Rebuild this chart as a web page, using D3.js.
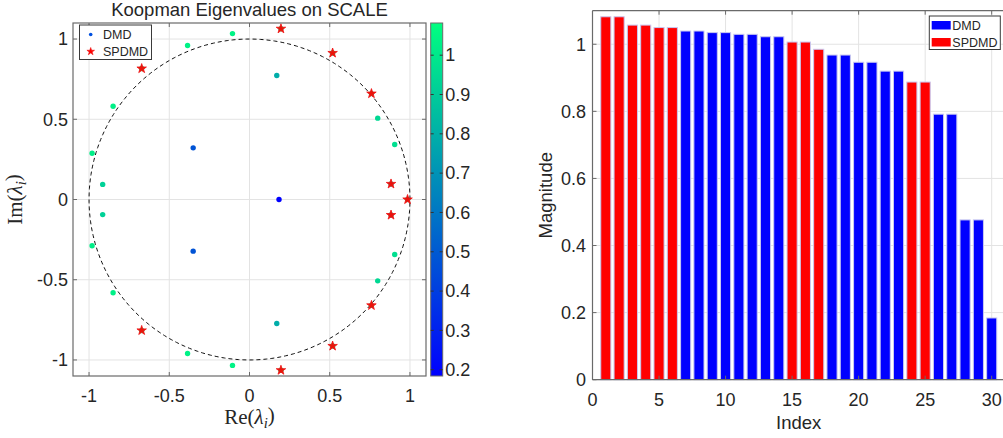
<!DOCTYPE html>
<html>
<head>
<meta charset="utf-8">
<script src="https://cdn.jsdelivr.net/npm/d3@7"></script>
<style>
  html, body { margin: 0; padding: 0; background: #fff; }
  svg { display: block; }
  text { font-family: "Liberation Sans", Arial, Helvetica, sans-serif; fill: #262626; }
  .tex { font-family: "Liberation Serif", "Times New Roman", serif; }
</style>
</head>
<body>
<svg id="fig" width="1003" height="438"></svg>
<script>
// Koopman eigenvalues (real and imaginary parts) and SPDMD selection flags
const eigRe = [0.196, 0.196, -0.672, -0.672, 0.518, 0.518, -0.106, -0.106, -0.386, -0.386,
               -0.850, -0.850, -0.981, -0.981, 0.760, 0.760, 0.985, 0.905, 0.905, 0.799,
               0.799, -0.915, -0.915, 0.882, 0.882, 0.170, 0.170, -0.351, -0.351, 0.184];
const eigIm = [1.064, -1.064, 0.816, -0.816, 0.913, -0.913, 1.034, -1.034, 0.960, -0.960,
               0.581, -0.581, 0.288, -0.288, 0.660, -0.660, 0.000, 0.343, -0.343, 0.507,
               -0.507, 0.094, -0.094, 0.097, -0.097, 0.773, -0.773, 0.322, -0.322, 0.000];
const spdmd = [1, 1, 1, 1, 1, 1, 0, 0, 0, 0,
               0, 0, 0, 0, 1, 1, 1, 0, 0, 0,
               0, 0, 0, 1, 1, 0, 0, 0, 0, 0];

// Tick values and labels
const planeTicks = [-1, -0.5, 0, 0.5, 1];
const planeTickLabels = ["-1", "-0.5", "0", "0.5", "1"];
const cbarTicks = [0.2, 0.3, 0.4, 0.5, 0.6, 0.7, 0.8, 0.9, 1];
const cbarTickLabels = ["0.2", "0.3", "0.4", "0.5", "0.6", "0.7", "0.8", "0.9", "1"];
const indexTicks = [0, 5, 10, 15, 20, 25, 30];
const indexTickLabels = ["0", "5", "10", "15", "20", "25", "30"];
const magTicks = [0, 0.2, 0.4, 0.6, 0.8, 1];
const magTickLabels = ["0", "0.2", "0.4", "0.6", "0.8", "1"];

const COL_DMD = "#0000ff", COL_SP = "#ff0000";
const GRID = "#e3e3e3", AXC = "#6a6a6a";

const modes = eigRe.map((re, i) => ({ re, im: eigIm[i], sp: !!spdmd[i], mag: Math.hypot(re, eigIm[i]) }));
const svg = d3.select("#fig");

// MATLAB "winter" colormap: blue -> spring green
const winter = t => d3.rgb(0, Math.round(255 * t), Math.round(255 * (1 - 0.5 * t))).toString();
const [cmin, cmax] = d3.extent(modes, d => d.mag);

/* ---------------- left: complex plane ---------------- */
const L = { x0: 73, x1: 426, y0: 23, y1: 376 };
const xs = d3.scaleLinear([-1.1, 1.1], [L.x0, L.x1]);
const ys = d3.scaleLinear([-1.1, 1.1], [L.y1, L.y0]);
const gL = svg.append("g");

gL.append("rect").attr("x", L.x0).attr("y", L.y0).attr("width", L.x1 - L.x0).attr("height", L.y1 - L.y0).attr("fill", "#fff");
// grid
gL.selectAll(".gx").data(planeTicks).join("line")
  .attr("x1", d => xs(d)).attr("x2", d => xs(d)).attr("y1", L.y0).attr("y2", L.y1)
  .attr("stroke", GRID).attr("stroke-width", 1);
gL.selectAll(".gy").data(planeTicks).join("line").attr("class", "gy")
  .attr("y1", d => ys(d)).attr("y2", d => ys(d)).attr("x1", L.x0).attr("x2", L.x1)
  .attr("stroke", GRID).attr("stroke-width", 1);

// unit circle
const th = d3.range(0, 361, 1).map(a => a * Math.PI / 180);
gL.append("path")
  .attr("d", d3.line().x(a => xs(Math.cos(a))).y(a => ys(Math.sin(a)))(th))
  .attr("fill", "none").attr("stroke", "#111").attr("stroke-width", 1).attr("stroke-dasharray", "4,3");

// DMD eigenvalues coloured by magnitude
const cnorm = d3.scaleLinear([cmin, cmax], [0, 1]);
gL.selectAll(".dmd").data(modes).join("circle")
  .attr("cx", d => xs(d.re)).attr("cy", d => ys(d.im)).attr("r", 2.7)
  .attr("fill", d => winter(cnorm(d.mag)));

// SPDMD-selected eigenvalues
const star = d3.symbol().type(d3.symbolStar).size(28);
gL.selectAll(".sp").data(modes.filter(d => d.sp)).join("path")
  .attr("transform", d => `translate(${xs(d.re)},${ys(d.im)})`)
  .attr("d", star).attr("fill", COL_SP).attr("fill-opacity", 0.92)
  .attr("stroke", "#ee1010").attr("stroke-width", 0.8);

// frame + ticks (all four sides)
gL.append("rect").attr("x", L.x0).attr("y", L.y0).attr("width", L.x1 - L.x0).attr("height", L.y1 - L.y0)
  .attr("fill", "none").attr("stroke", AXC).attr("stroke-width", 1.2);
planeTicks.forEach(t => {
  gL.append("line").attr("x1", xs(t)).attr("x2", xs(t)).attr("y1", L.y1).attr("y2", L.y1 - 4).attr("stroke", AXC);
  gL.append("line").attr("x1", xs(t)).attr("x2", xs(t)).attr("y1", L.y0).attr("y2", L.y0 + 4).attr("stroke", AXC);
  gL.append("line").attr("y1", ys(t)).attr("y2", ys(t)).attr("x1", L.x0).attr("x2", L.x0 + 4).attr("stroke", AXC);
  gL.append("line").attr("y1", ys(t)).attr("y2", ys(t)).attr("x1", L.x1).attr("x2", L.x1 - 4).attr("stroke", AXC);
});
gL.selectAll(".xl").data(planeTicks).join("text")
  .attr("x", d => xs(d)).attr("y", 402).attr("text-anchor", "middle").attr("font-size", 18)
  .text((d, i) => planeTickLabels[i]);
gL.selectAll(".yl").data(planeTicks).join("text")
  .attr("x", L.x0 - 5).attr("y", d => ys(d)).attr("dy", "0.35em").attr("text-anchor", "end").attr("font-size", 18)
  .text((d, i) => planeTickLabels[i]);

// title
gL.append("text").attr("x", (L.x0 + L.x1) / 2).attr("y", 16).attr("text-anchor", "middle")
  .attr("font-size", 18.5).text("Koopman Eigenvalues on SCALE");

// axis labels (TeX style)
function texLabel(g, pre) {
  g.append("tspan").text(pre + "(");
  g.append("tspan").attr("font-style", "italic").text("λ");
  g.append("tspan").attr("font-style", "italic").attr("font-size", "70%").attr("dy", "0.25em").text("i");
  g.append("tspan").attr("dy", "-0.25em").text(")");
}
const xlab = gL.append("text").attr("class", "tex").attr("x", (L.x0 + L.x1) / 2).attr("y", 424)
  .attr("text-anchor", "middle").attr("font-size", 21);
texLabel(xlab, "Re");
const ylab = gL.append("text").attr("class", "tex")
  .attr("transform", `translate(22,${(L.y0 + L.y1) / 2}) rotate(-90)`)
  .attr("text-anchor", "middle").attr("font-size", 21);
texLabel(ylab, "Im");

// legend
const lg = gL.append("g");
lg.append("rect").attr("x", 79.5).attr("y", 25).attr("width", 72).attr("height", 34.5)
  .attr("fill", "#fff").attr("stroke", "#3a3a3a").attr("stroke-width", 1);
lg.append("circle").attr("cx", 90.7).attr("cy", 34.5).attr("r", 1.8).attr("fill", "#0050e0");
lg.append("path").attr("transform", "translate(90.7,51.5)").attr("d", d3.symbol().type(d3.symbolStar).size(18))
  .attr("fill", COL_SP).attr("stroke", "#ee1010").attr("stroke-width", 0.6);
lg.append("text").attr("x", 103).attr("y", 39).attr("font-size", 12.5).text("DMD");
lg.append("text").attr("x", 103).attr("y", 56).attr("font-size", 12.5).text("SPDMD");

// colorbar
const C = { x0: 430.7, x1: 442.7 };
const cs = d3.scaleLinear([cmin, cmax], [L.y1, L.y0]);
const defs = svg.append("defs");
const grad = defs.append("linearGradient").attr("id", "winterGrad")
  .attr("x1", 0).attr("y1", 1).attr("x2", 0).attr("y2", 0);
d3.range(0, 1.0001, 0.05).forEach(t => grad.append("stop").attr("offset", t).attr("stop-color", winter(t)));
gL.append("rect").attr("x", C.x0).attr("y", L.y0).attr("width", C.x1 - C.x0).attr("height", L.y1 - L.y0)
  .attr("fill", "url(#winterGrad)").attr("stroke", AXC).attr("stroke-width", 1);
cbarTicks.forEach(t => {
  gL.append("line").attr("x1", C.x1).attr("x2", C.x1 - 3).attr("y1", cs(t)).attr("y2", cs(t)).attr("stroke", "#333");
  gL.append("line").attr("x1", C.x0).attr("x2", C.x0 + 3).attr("y1", cs(t)).attr("y2", cs(t)).attr("stroke", "#333");
});
gL.selectAll(".cl").data(cbarTicks).join("text")
  .attr("x", C.x1 + 2.5).attr("y", d => cs(d)).attr("dy", "0.35em").attr("font-size", 18)
  .text((d, i) => cbarTickLabels[i]);

/* ---------------- right: magnitude bar chart ---------------- */
const R = { x0: 592.5, x1: 1005, y0: 10.7, y1: 379.7 };
const sorted = modes.slice().sort((a, b) => b.mag - a.mag).map((d, i) => ({ ...d, idx: i + 1 }));
const bx = d3.scaleLinear([0, 31], [R.x0, R.x1]);
const by = d3.scaleLinear([0, 1.1], [R.y1, R.y0]);
const gR = svg.append("g");

gR.selectAll(".gx").data(indexTicks).join("line")
  .attr("x1", d => bx(d)).attr("x2", d => bx(d)).attr("y1", R.y0).attr("y2", R.y1)
  .attr("stroke", GRID).attr("stroke-width", 1);
gR.selectAll(".gy").data(magTicks).join("line").attr("class", "gy")
  .attr("y1", d => by(d)).attr("y2", d => by(d)).attr("x1", R.x0).attr("x2", R.x1)
  .attr("stroke", GRID).attr("stroke-width", 1);

const bw = (bx(1) - bx(0)) * 0.76;
gR.selectAll(".bar").data(sorted).join("rect")
  .attr("x", d => bx(d.idx) - bw / 2).attr("width", bw)
  .attr("y", d => by(d.mag)).attr("height", d => by(0) - by(d.mag))
  .attr("fill", d => d.sp ? COL_SP : COL_DMD)
  .attr("stroke", "#c8c8f0").attr("stroke-width", 1);

// frame + ticks
gR.append("line").attr("x1", R.x0).attr("x2", R.x0).attr("y1", R.y0).attr("y2", R.y1).attr("stroke", AXC).attr("stroke-width", 1.2);
gR.append("line").attr("x1", R.x0).attr("x2", R.x1).attr("y1", R.y1).attr("y2", R.y1).attr("stroke", AXC).attr("stroke-width", 1.2);
gR.append("line").attr("x1", R.x0).attr("x2", R.x1).attr("y1", R.y0).attr("y2", R.y0).attr("stroke", AXC).attr("stroke-width", 1.2);
indexTicks.forEach(t => {
  gR.append("line").attr("x1", bx(t)).attr("x2", bx(t)).attr("y1", R.y1).attr("y2", R.y1 - 4).attr("stroke", AXC);
  gR.append("line").attr("x1", bx(t)).attr("x2", bx(t)).attr("y1", R.y0).attr("y2", R.y0 + 4).attr("stroke", AXC);
});
magTicks.forEach(t => {
  gR.append("line").attr("y1", by(t)).attr("y2", by(t)).attr("x1", R.x0).attr("x2", R.x0 + 4).attr("stroke", AXC);
});
gR.selectAll(".xl").data(indexTicks).join("text")
  .attr("x", d => bx(d)).attr("y", 406).attr("text-anchor", "middle").attr("font-size", 18)
  .text((d, i) => indexTickLabels[i]);
gR.selectAll(".yl").data(magTicks).join("text")
  .attr("x", R.x0 - 6.5).attr("y", d => by(d)).attr("dy", "0.35em").attr("text-anchor", "end").attr("font-size", 18)
  .text((d, i) => magTickLabels[i]);

gR.append("text").attr("x", (R.x0 + R.x1) / 2).attr("y", 429).attr("text-anchor", "middle")
  .attr("font-size", 18.5).text("Index");
gR.append("text").attr("transform", `translate(551.5,${(R.y0 + R.y1) / 2}) rotate(-90)`)
  .attr("text-anchor", "middle").attr("font-size", 18.5).text("Magnitude");

// legend
const rg = gR.append("g");
rg.append("rect").attr("x", 929.3).attr("y", 16).attr("width", 71).attr("height", 33.5)
  .attr("fill", "#fff").attr("stroke", "#3a3a3a").attr("stroke-width", 1);
rg.append("rect").attr("x", 931.7).attr("y", 21).attr("width", 19).attr("height", 8.5).attr("fill", COL_DMD);
rg.append("rect").attr("x", 931.7).attr("y", 38).attr("width", 19).attr("height", 8.5).attr("fill", COL_SP);
rg.append("text").attr("x", 952.3).attr("y", 29.5).attr("font-size", 12.5).text("DMD");
rg.append("text").attr("x", 952.3).attr("y", 46.5).attr("font-size", 12.5).text("SPDMD");
</script>
</body>
</html>
